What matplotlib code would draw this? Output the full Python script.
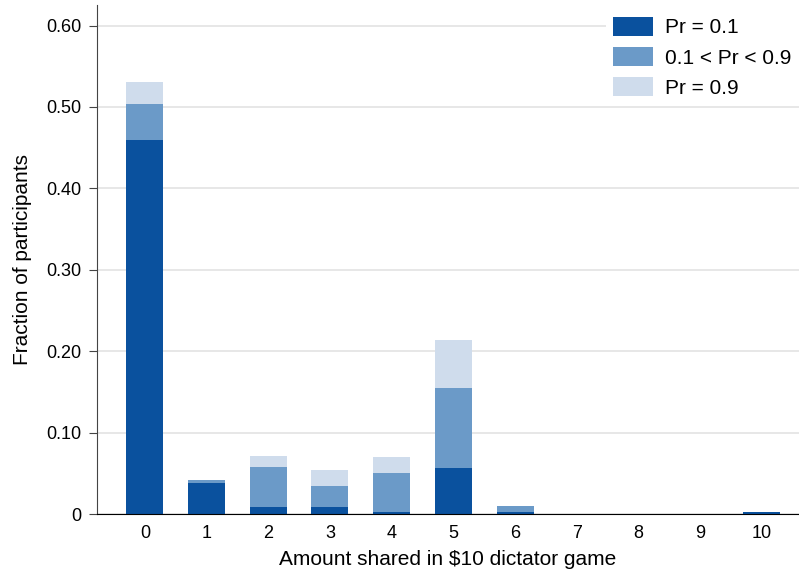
import matplotlib.pyplot as plt
import numpy as np

plt.rcParams['font.family'] = ['Liberation Sans', 'DejaVu Sans']

# Amount shared and stacked fractions for each prior group
amounts = [0, 1, 2, 3, 4, 5, 6, 7, 8, 9, 10]
pr_low = [0.459, 0.038, 0.009, 0.009, 0.0025, 0.057, 0.002, 0, 0, 0, 0.0025]
pr_mid = [0.045, 0.004, 0.049, 0.025, 0.0475, 0.098, 0.008, 0, 0, 0, 0]
pr_high = [0.027, 0, 0.013, 0.020, 0.020, 0.059, 0, 0, 0, 0, 0]
labels = ['Pr = 0.1', '0.1 < Pr < 0.9', 'Pr = 0.9']
yticks = [0, 0.1, 0.2, 0.3, 0.4, 0.5, 0.6]
ytick_labels = ['0', '0.10', '0.20', '0.30', '0.40', '0.50', '0.60']

colors = ['#0a519e', '#6b9ac8', '#cfdcec']

fig = plt.figure(figsize=(7.99, 5.74), dpi=100)
ax = fig.add_axes([0.121, 0.1045, 0.879, 0.8865])

low = np.array(pr_low)
mid = np.array(pr_mid)
high = np.array(pr_high)
ax.bar(amounts, low, width=0.6, color=colors[0], label=labels[0], zorder=2)
ax.bar(amounts, mid, width=0.6, bottom=low, color=colors[1], label=labels[1], zorder=2)
ax.bar(amounts, high, width=0.6, bottom=low + mid, color=colors[2], label=labels[2], zorder=2)

ax.set_xlim(-0.78, 10.6)
ax.set_ylim(0, 0.625)
ax.set_xticks(amounts)
ax.set_yticks(yticks)
ax.set_yticklabels(ytick_labels)
ax.tick_params(axis='y', labelsize=13, length=6, pad=5, color='#444444')
ax.tick_params(axis='x', labelsize=13, length=0, pad=8)
ax.grid(axis='y', color='#e3e3e3', linewidth=1.2, zorder=0)

for side in ['top', 'right']:
    ax.spines[side].set_visible(False)
ax.spines['left'].set_color('#444444')
ax.spines['bottom'].set_color('black')

ax.set_xlabel('Amount shared in $10 dictator game', fontsize=15, labelpad=6)
ax.set_ylabel('Fraction of participants', fontsize=15, labelpad=10)

leg = ax.legend(loc='upper right', bbox_to_anchor=(1.0, 0.992), fontsize=15,
                frameon=True, framealpha=1, edgecolor='white', fancybox=False,
                handlelength=1.92, handleheight=1.06, labelspacing=0.45,
                handletextpad=0.58, borderpad=0.35, borderaxespad=0)
leg.get_frame().set_linewidth(0)

fig.savefig('out.png', dpi=100)
